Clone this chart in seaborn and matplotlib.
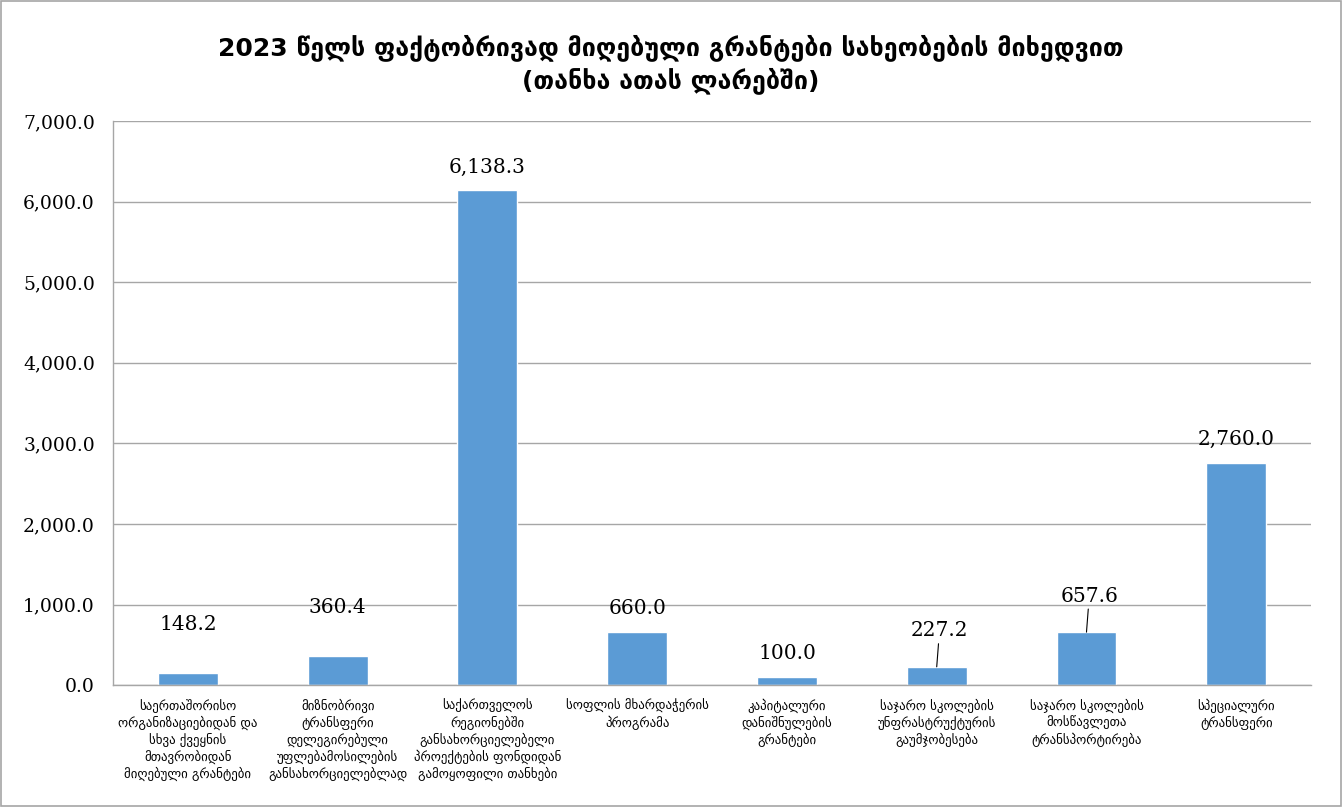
import numpy as np
import pandas as pd
import seaborn as sns
import matplotlib.pyplot as plt
from matplotlib.ticker import FuncFormatter, MultipleLocator, FixedLocator

# მონაცემები
kategoriebi = [
    "საერთაშორისო\nორგანიზაციებიდან და\nსხვა ქვეყნის\nმთავრობიდან\nმიღებული გრანტები",
    "მიზნობრივი\nტრანსფერი\nდელეგირებული\nუფლებამოსილების\nგანსახორციელებლად",
    "საქართველოს\nრეგიონებში\nგანსახორციელებელი\nპროექტების ფონდიდან\nგამოყოფილი თანხები",
    "სოფლის მხარდაჭერის\nპროგრამა",
    "კაპიტალური\nდანიშნულების\nგრანტები",
    "საჯარო სკოლების\nუნფრასტრუქტურის\nგაუმჯობესება",
    "საჯარო სკოლების\nმოსწავლეთა\nტრანსპორტირება",
    "სპეციალური\nტრანსფერი",
]
tanxa = [148.2, 360.4, 6138.3, 660.0, 100.0, 227.2, 657.6, 2760.0]

satauri = "2023 წელს ფაქტობრივად მიღებული გრანტები სახეობების მიხედვით\n(თანხა ათას ლარებში)"

df = pd.DataFrame({"kat": kategoriebi, "val": tanxa})

sns.set_style("white")
plt.rcParams['font.family'] = ['DejaVu Sans']
plt.rcParams['text.color'] = 'black'
plt.rcParams['xtick.color'] = 'black'
plt.rcParams['ytick.color'] = 'black'

fig = plt.figure(figsize=(13.42, 8.07), dpi=100)
ax = fig.add_axes([0.0842, 0.151, 0.8928, 0.699])

sns.barplot(data=df, x="kat", y="val", color="#5B9BD5", width=0.4,
            saturation=1, ax=ax)

ax.set_xlim(-0.5, len(tanxa) - 0.5)
ax.set_ylim(0, 7000)
ax.yaxis.set_major_locator(MultipleLocator(1000))
ax.yaxis.set_major_formatter(FuncFormatter(lambda v, p: f"{v:,.1f}"))
ax.grid(axis="y", color="#A6A6A6", linewidth=1)
ax.set_axisbelow(True)

for s in ["top", "right"]:
    ax.spines[s].set_visible(False)
for s in ["left", "bottom"]:
    ax.spines[s].set_color("#A6A6A6")
    ax.spines[s].set_linewidth(1)

ax.set_xlabel("")
ax.set_ylabel("")

# x ღერძის ტიკები კატეგორიებს შორის
ax.xaxis.set_minor_locator(FixedLocator(np.arange(-0.5, len(tanxa), 1.0)))
ax.tick_params(axis="x", which="major", length=0, pad=10)
ax.tick_params(axis="x", which="minor", length=7, color="#A6A6A6", width=1)
ax.tick_params(axis="y", length=7, color="#A6A6A6", width=1, pad=6)
ax.set_xticks(range(len(tanxa)))
ax.set_xticklabels(kategoriebi, fontsize=9.3, linespacing=1.25, va="top")
for t in ax.get_yticklabels():
    t.set_fontfamily("DejaVu Serif")
    t.set_fontsize(13.5)

# მნიშვნელობების წარწერები
for i, v in enumerate(tanxa):
    lbl = f"{v:,.1f}"
    if i in (5, 6):
        ax.annotate(lbl, xy=(i, v), xytext=(2, 19), textcoords="offset points",
                    ha="center", va="bottom", fontsize=14.5, family="DejaVu Serif",
                    arrowprops=dict(arrowstyle="-", color="black", lw=0.8,
                                    shrinkA=0, shrinkB=0))
    elif i in (0, 1):
        ax.annotate(lbl, xy=(i, v), xytext=(0, 28), textcoords="offset points",
                    ha="center", va="bottom", fontsize=14.5, family="DejaVu Serif")
    else:
        ax.annotate(lbl, xy=(i, v), xytext=(0, 10), textcoords="offset points",
                    ha="center", va="bottom", fontsize=14.5, family="DejaVu Serif")

fig.text(0.5, 0.958, satauri, ha="center", va="top", fontsize=18,
         fontweight="bold", linespacing=1.3)

# ჩარჩო
fig.patches.append(plt.Rectangle((0.001, 0.001), 0.998, 0.998, transform=fig.transFigure,
                                 fill=False, edgecolor="#A6A6A6", linewidth=1.2))

fig.savefig("out.png", dpi=100)
